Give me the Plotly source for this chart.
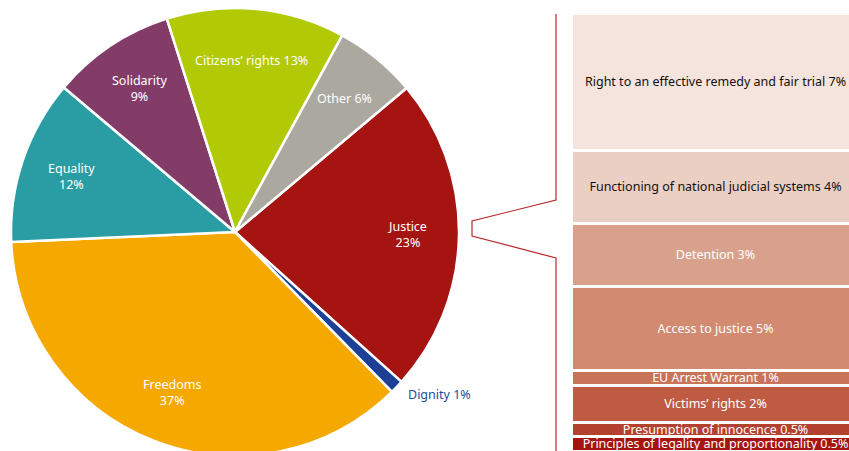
import math
import plotly.graph_objects as go

# ---------------- data ----------------
pie_labels = ["Justice", "Dignity", "Freedoms", "Equality", "Solidarity", "Citizens’ rights", "Other"]
pie_values = [23, 1, 37, 12, 9, 13, 6]
pie_colors = ["#A51410", "#1D3F95", "#F5A800", "#2A9DA4", "#833C68", "#B1CA05", "#ABA8A0"]
pie_text = ["Justice<br>23%", "Dignity 1%", "Freedoms<br>37%", "Equality<br>12%",
            "Solidarity<br>9%", "Citizens’ rights 13%", "Other 6%"]

justice_labels = ["Right to an effective remedy and fair trial 7%",
                  "Functioning of national judicial systems 4%",
                  "Detention 3%",
                  "Access to justice 5%",
                  "EU Arrest Warrant 1%",
                  "Victims’ rights 2%",
                  "Presumption of innocence 0.5%",
                  "Principles of legality and proportionality 0.5%"]
justice_values = [7.28, 3.89, 3.36, 4.44, 0.79, 1.97, 0.77, 0.77]
justice_colors = ["#F5E4DD", "#EBCFC3", "#D9A18B", "#D28A71", "#C8735A", "#BF5B42", "#B44030", "#A51410"]
justice_text_colors = ["#111111", "#111111", "white", "white", "white", "white", "white", "white"]

# ---------------- layout constants ----------------
W, H = 849, 458
FONT = "'Noto Sans', 'Open Sans', sans-serif"
FS = 12.5
pie_x0, pie_x1 = 11, 459          # px
pie_top = 8                       # px
start_angle = 50                  # degrees clockwise from 12 o'clock
label_r = 0.77

def px(x):
    return x / W

def py(y):
    return 1 - y / H

radius = (pie_x1 - pie_x0) / 2
cx = (pie_x0 + pie_x1) / 2
cy = pie_top + radius

fig = go.Figure()

fig.add_trace(go.Pie(
    labels=pie_labels, values=pie_values, sort=False, direction="clockwise",
    rotation=start_angle, marker=dict(colors=pie_colors, line=dict(color="white", width=2.5)),
    textinfo="none", hoverinfo="label+value", showlegend=False,
    domain=dict(x=[px(pie_x0), px(pie_x1)], y=[py(pie_top + 2 * radius), py(pie_top)]),
))

# label positions derived from the data angles
total = sum(pie_values)
cum = 0
annotations = []
for lab, val, txt in zip(pie_labels, pie_values, pie_text):
    mid = start_angle + (cum + val / 2) / total * 360
    cum += val
    a = math.radians(mid)
    if lab == "Dignity":
        r = radius * 1.04
        x = cx + r * math.sin(a)
        y = cy - r * math.cos(a)
        annotations.append(dict(x=px(x + 3), y=py(y + 1), xref="paper", yref="paper",
                                text=txt, showarrow=False, xanchor="left", yanchor="middle",
                                font=dict(family=FONT, size=FS, color="#1D4D9E")))
    else:
        r = radius * label_r
        x = cx + r * math.sin(a)
        y = cy - r * math.cos(a)
        annotations.append(dict(x=px(x), y=py(y), xref="paper", yref="paper",
                                text=txt, showarrow=False, align="center",
                                xanchor="center", yanchor="middle",
                                font=dict(family=FONT, size=FS, color="white")))

# stacked bar (bottom segment first)
for lab, val, col, tcol in reversed(list(zip(justice_labels, justice_values, justice_colors, justice_text_colors))):
    fig.add_trace(go.Bar(
        x=[0], y=[val], width=1, name=lab, text=[lab], textposition="inside",
        insidetextanchor="middle", constraintext="none", textangle=0,
        textfont=dict(family=FONT, size=FS, color=tcol),
        marker=dict(color=col, line=dict(color="white", width=3)),
        xaxis="x", yaxis="y", showlegend=False, hoverinfo="name",
    ))

bar_left, bar_px_w = 572, 288
bar_top, bar_bottom = 13.5, 451
fig.update_layout(
    width=W, height=H, margin=dict(l=0, r=0, t=0, b=0),
    paper_bgcolor="white", plot_bgcolor="white",
    barmode="stack", bargap=0,
    xaxis=dict(domain=[px(bar_left), 1], range=[-0.5, -0.5 + (W - bar_left) / bar_px_w],
               visible=False, fixedrange=True),
    yaxis=dict(domain=[py(bar_bottom), py(bar_top)], range=[0, sum(justice_values)],
               visible=False, fixedrange=True),
    annotations=annotations,
    font=dict(family=FONT),
    shapes=[dict(type="path", xref="paper", yref="paper",
                 path=(f"M {px(556)},{py(14)} L {px(556)},{py(200)} L {px(472)},{py(221)} "
                       f"L {px(472)},{py(236)} L {px(556)},{py(258)} L {px(556)},{py(451)}"),
                 line=dict(color="#B8282B", width=1.2))],
)

fig.write_html("out.html", config={"displayModeBar": False},
               post_script="document.body.style.margin='0';document.body.style.overflow='hidden';")
